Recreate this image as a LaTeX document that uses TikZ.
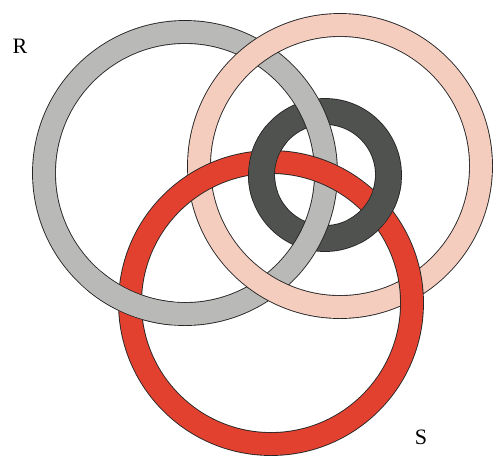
\documentclass[tikz,border=0pt]{standalone}
\usepackage{fontspec}
\setmainfont{Liberation Serif}
\usepackage{tikz}
\usetikzlibrary{positioning}
\definecolor{ringgray}{HTML}{B9BAB8}
\definecolor{ringpink}{HTML}{F4CDBF}
\definecolor{ringred}{HTML}{E2412F}
\definecolor{ringdark}{HTML}{505250}

\begin{document}
\begin{tikzpicture}[
    x=1pt, y=-1pt,
    ring/.style={draw=black!85,line width=0.9pt,double distance=22pt},
    darkring/.style={ring,double=ringdark,double distance=25pt},
    patch/.style={line width=22pt},
    lbl/.style={font=\fontsize{22}{24}\selectfont,inner sep=0pt}
  ]
    \useasboundingbox (0,0) rectangle (497,456);
    \coordinate (gc) at (185,173);
    \coordinate (pc) at (340,166);
    \coordinate (rc) at (271,303);
    \coordinate (dc) at (325,175);

    % full rings, bottom to top
    \draw[darkring] (dc) circle[radius=63.5];
    \draw[ring,double=ringgray] (gc) circle[radius=141];
    \draw[ring,double=ringpink] (pc) circle[radius=141];
    \draw[ring,double=ringred] (rc) circle[radius=141];

    % crossings that go the other way
    \draw[ring,double=ringgray] (gc) ++(95:141) arc[start angle=95,end angle=130,radius=141];
    \draw[darkring] (dc) ++(5:63.5) arc[start angle=5,end angle=63,radius=63.5];
    \draw[darkring] (dc) ++(160:63.5) arc[start angle=160,end angle=220,radius=63.5];
    % hide the seams at the arc ends
    \draw[patch,ringgray] (gc) ++(92:141) arc[start angle=92,end angle=133,radius=141];
    \draw[patch,ringdark,line width=25pt] (dc) ++(2:63.5) arc[start angle=2,end angle=66,radius=63.5];
    \draw[patch,ringdark,line width=25pt] (dc) ++(157:63.5) arc[start angle=157,end angle=223,radius=63.5];

    \node[lbl] (rlbl) at (20,46) {R};
    \node[lbl] (slbl) at (421,437) {S};
  \end{tikzpicture}
\end{document}
